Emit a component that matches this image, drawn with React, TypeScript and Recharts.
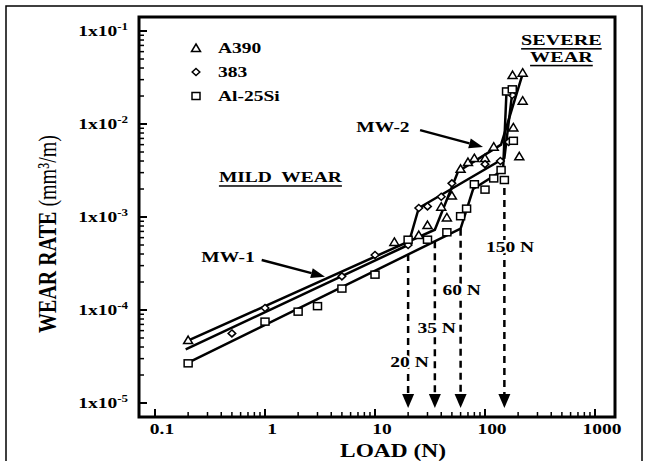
import {
  Legend,
  ReferenceArea,
  ReferenceDot,
  ReferenceLine,
  Scatter,
  ScatterChart,
  XAxis,
  YAxis,
} from "recharts";

const FONT = "'Liberation Serif', 'Times New Roman', Times, serif";
const INK = "#000";
// the scanned figure is stretched sideways, so all text is widened a bit
const STRETCH = 1.3;

const X_DOMAIN = [0.0715, 1520];
const Y_DOMAIN = [7.07e-6, 0.1415];

const X_MAJOR = [0.1, 1, 10, 100, 1000];
const X_LABELS = ["0.1", "1", "10", "100", "1000"];
const X_MINOR = [
  0.2, 0.3, 0.4, 0.5, 0.6, 0.7, 0.8, 0.9, 2, 3, 4, 5, 6, 7, 8, 9, 20, 30, 40, 50, 60, 70, 80, 90, 200, 300, 400,
  500, 600, 700, 800, 900,
];

const Y_MAJOR = [1e-5, 1e-4, 1e-3, 1e-2, 1e-1];
const Y_EXPONENTS = ["-5", "-4", "-3", "-2", "-1"];
const Y_MINOR = [
  2e-5, 3e-5, 4e-5, 5e-5, 6e-5, 7e-5, 8e-5, 9e-5, 2e-4, 3e-4, 4e-4, 5e-4, 6e-4, 7e-4, 8e-4, 9e-4, 2e-3, 3e-3, 4e-3,
  5e-3, 6e-3, 7e-3, 8e-3, 9e-3, 2e-2, 3e-2, 4e-2, 5e-2, 6e-2, 7e-2, 8e-2, 9e-2,
];

const LEGEND_ORDER = ["A390", "383", "Al-25Si"];

// measured points, load (N) vs wear rate (mm3/m)
const A390_POINTS = [
  { load: 0.2, rate: 4.75e-5 },
  { load: 15, rate: 5.4e-4 },
  { load: 25, rate: 6.4e-4 },
  { load: 30, rate: 8.2e-4 },
  { load: 40, rate: 1.29e-3 },
  { load: 45, rate: 9.9e-4 },
  { load: 50, rate: 1.7e-3 },
  { load: 60, rate: 3.3e-3 },
  { load: 70, rate: 3.9e-3 },
  { load: 80, rate: 4.3e-3 },
  { load: 100, rate: 4.3e-3 },
  { load: 120, rate: 5.7e-3 },
  { load: 178, rate: 0.0336 },
  { load: 181, rate: 9.2e-3 },
  { load: 205, rate: 4.5e-3 },
  { load: 220, rate: 0.0356 },
  { load: 220, rate: 0.0178 },
];

const A383_POINTS = [
  { load: 0.5, rate: 5.6e-5 },
  { load: 1, rate: 1.05e-4 },
  { load: 5, rate: 2.3e-4 },
  { load: 10, rate: 3.9e-4 },
  { load: 20, rate: 5.0e-4 },
  { load: 25, rate: 1.25e-3 },
  { load: 30, rate: 1.3e-3 },
  { load: 40, rate: 1.65e-3 },
  { load: 50, rate: 2.3e-3 },
  { load: 100, rate: 3.7e-3 },
  { load: 138, rate: 4.0e-3 },
  { load: 164, rate: 6.4e-3 },
  { load: 177, rate: 0.0205 },
];

const AL25SI_POINTS = [
  { load: 0.2, rate: 2.67e-5 },
  { load: 1, rate: 7.5e-5 },
  { load: 2, rate: 9.6e-5 },
  { load: 3, rate: 1.1e-4 },
  { load: 5, rate: 1.7e-4 },
  { load: 10, rate: 2.4e-4 },
  { load: 20, rate: 5.7e-4 },
  { load: 30, rate: 5.7e-4 },
  { load: 45, rate: 6.85e-4 },
  { load: 60, rate: 1.02e-3 },
  { load: 68, rate: 1.23e-3 },
  { load: 80, rate: 2.25e-3 },
  { load: 100, rate: 1.97e-3 },
  { load: 120, rate: 2.6e-3 },
  { load: 140, rate: 3.2e-3 },
  { load: 150, rate: 2.5e-3 },
  { load: 157, rate: 0.0224 },
  { load: 177, rate: 0.0236 },
  { load: 181, rate: 6.6e-3 },
];

// fitted regime lines (MW-1, transition, MW-2, severe)
const A390_FIT = [
  { load: 0.19, rate: 4.56e-5 },
  { load: 35, rate: 7.3e-4 },
  { load: 57, rate: 3.1e-3 },
  { load: 140, rate: 6.0e-3 },
  { load: 222, rate: 0.036 },
];
const A383_FIT = [
  { load: 0.19, rate: 3.78e-5 },
  { load: 20, rate: 5.0e-4 },
  { load: 25, rate: 1.25e-3 },
  { load: 150, rate: 4.3e-3 },
  { load: 178, rate: 0.023 },
];
const AL25SI_FIT = [
  { load: 0.19, rate: 2.63e-5 },
  { load: 60, rate: 7.5e-4 },
  { load: 78, rate: 2.0e-3 },
  { load: 146, rate: 3.2e-3 },
  { load: 157, rate: 0.023 },
];

// transition loads with dashed arrows
const TRANSITIONS = [
  { label: "20 N", load: 20, from: 4.0e-4, labelLoad: 20.6, labelRate: 2.72e-5 },
  { label: "35 N", load: 35, from: 5.5e-4, labelLoad: 36.4, labelRate: 6.4e-5 },
  { label: "60 N", load: 60, from: 7.5e-4, labelLoad: 61.4, labelRate: 1.64e-4 },
  { label: "150 N", load: 150, from: 2.05e-3, labelLoad: 169, labelRate: 4.7e-4 },
];
const ARROW_TIP_RATE = 8.83e-6;

const NOTES = [
  { text: "MILD  WEAR", load: 1.38, rate: 2.69e-3, size: 15, underline: true },
  { text: "SEVERE", load: 495, rate: 0.0795, size: 15.5, underline: true },
  { text: "WEAR", load: 495, rate: 0.0525, size: 15.5, underline: true },
  { text: "MW-1", load: 0.461, rate: 3.71e-4, size: 15, underline: false },
  { text: "MW-2", load: 11.8, rate: 9.3e-3, size: 15, underline: false },
];
const NOTE_ARROWS = [
  { from: { x: 0.933, y: 3.45e-4 }, to: { x: 3.51, y: 2.28e-4 } },
  { from: { x: 25.7, y: 8.6e-3 }, to: { x: 95.9, y: 5.66e-3 } },
];

const Triangle = ({ cx, cy }: any) => (
  <path
    d={`M${cx},${cy - 4} L${cx + 4.5},${cy + 3.5} L${cx - 4.5},${cy + 3.5} Z`}
    fill="#fff"
    stroke={INK}
    strokeWidth={1.5}
  />
);
const Diamond = ({ cx, cy }: any) => (
  <path
    d={`M${cx},${cy - 3.5} L${cx + 3.8},${cy} L${cx},${cy + 3.5} L${cx - 3.8},${cy} Z`}
    fill="#fff"
    stroke={INK}
    strokeWidth={1.5}
  />
);
const Square = ({ cx, cy }: any) => (
  <rect x={cx - 4} y={cy - 3.5} width={8} height={7} fill="#fff" stroke={INK} strokeWidth={1.5} />
);

const MARKERS: Record<string, (p: any) => any> = {
  A390: Triangle,
  "383": Diamond,
  "Al-25Si": Square,
};

const Wide = ({ x, y, size = 15, anchor = "middle", underline = false, halo = false, children }: any) => (
  <g transform={`translate(${x},${y}) scale(${STRETCH},1)`}>
    <text
      x={0}
      y={0}
      textAnchor={anchor}
      dominantBaseline="central"
      fontFamily={FONT}
      fontWeight="bold"
      fontSize={size}
      fill={INK}
      stroke={halo ? "#fff" : "none"}
      strokeWidth={halo ? 4 : 0}
      paintOrder="stroke"
      style={{ whiteSpace: "pre", textDecoration: underline ? "underline" : "none" }}
    >
      {children}
    </text>
  </g>
);

const YTick = ({ x, y, payload }: any) => {
  const idx = Y_MAJOR.indexOf(payload.value);
  const major = idx >= 0;
  return (
    <g>
      <line x1={x} y1={y} x2={x + (major ? 8 : 5)} y2={y} stroke={INK} strokeWidth={major ? 2 : 1.5} />
      {major && (
        <g transform={`translate(${x - 11},${y}) scale(${STRETCH},1)`}>
          <text textAnchor="end" dominantBaseline="central" fontFamily={FONT} fontWeight="bold" fontSize={15} fill={INK}>
            1x10
            <tspan dy={-4} fontSize={10}>
              {Y_EXPONENTS[idx]}
            </tspan>
          </text>
        </g>
      )}
    </g>
  );
};

const XTick = ({ x, y, payload }: any) => {
  const idx = X_MAJOR.indexOf(payload.value);
  const major = idx >= 0;
  return (
    <g>
      <line x1={x} y1={y} x2={x} y2={y - (major ? 8 : 5)} stroke={INK} strokeWidth={major ? 2 : 1.5} />
      {major && (
        <Wide x={x + 7} y={y + 12}>
          {X_LABELS[idx]}
        </Wide>
      )}
    </g>
  );
};

const Arrow = ({ x1, y1, x2, y2, dashed = false, head = 14, half = 5.5, width = 2.5 }: any) => {
  const dx = x2 - x1;
  const dy = y2 - y1;
  const len = Math.hypot(dx, dy) || 1;
  const ux = dx / len;
  const uy = dy / len;
  const bx = x2 - ux * head;
  const by = y2 - uy * head;
  const px = -uy * half;
  const py = ux * half;
  return (
    <g>
      <line x1={x1} y1={y1} x2={bx} y2={by} stroke={INK} strokeWidth={width} strokeDasharray={dashed ? "7 5" : undefined} />
      <polygon points={`${x2},${y2} ${bx + px},${by + py} ${bx - px},${by - py}`} fill={INK} />
    </g>
  );
};

const LegendBox = (props: any) => {
  const items = (props.payload || [])
    .filter((it: any) => it.type !== "none" && MARKERS[it.value])
    .sort((a: any, b: any) => LEGEND_ORDER.indexOf(a.value) - LEGEND_ORDER.indexOf(b.value));
  return (
    <svg width={110} height={80}>
      {items.map((it: any, i: number) => {
        const M = MARKERS[it.value];
        const cy = 12 + i * 24;
        return (
          <g key={it.value}>
            <M cx={10} cy={cy} />
            <Wide x={32} y={cy} anchor="start">
              {it.value}
            </Wide>
          </g>
        );
      })}
    </svg>
  );
};

const noDot = () => <g />;

export default function App() {
  return (
    <div style={{ position: "absolute", left: 0, top: 0, width: 646, height: 461, background: "#fff", overflow: "hidden" }}>
      <ScatterChart width={646} height={461} margin={{ top: 17, right: 31, bottom: 0, left: 0 }}>
        <XAxis
          dataKey="load"
          type="number"
          scale="log"
          domain={X_DOMAIN}
          allowDataOverflow
          ticks={[...X_MAJOR, ...X_MINOR]}
          interval={0}
          tick={(p: any) => <XTick {...p} />}
          tickLine={false}
          axisLine={false}
          tickSize={0}
          tickMargin={0}
          height={44}
        />
        <YAxis
          dataKey="rate"
          type="number"
          scale="log"
          domain={Y_DOMAIN}
          allowDataOverflow
          ticks={[...Y_MAJOR, ...Y_MINOR]}
          interval={0}
          tick={(p: any) => <YTick {...p} />}
          tickLine={false}
          axisLine={false}
          tickSize={0}
          tickMargin={0}
          width={139}
        />
        <ReferenceArea
          x1={X_DOMAIN[0]}
          x2={X_DOMAIN[1]}
          y1={Y_DOMAIN[0]}
          y2={Y_DOMAIN[1]}
          fill="none"
          fillOpacity={0}
          stroke={INK}
          strokeWidth={3}
          ifOverflow="visible"
        />
        {TRANSITIONS.map((t) => (
          <ReferenceLine
            key={t.label}
            segment={[
              { x: t.load, y: t.from },
              { x: t.load, y: ARROW_TIP_RATE },
            ]}
            ifOverflow="visible"
            shape={(p: any) => <Arrow {...p} dashed head={14} half={6} width={2.5} />}
          />
        ))}
        {NOTE_ARROWS.map((a, i) => (
          <ReferenceLine
            key={`note-arrow-${i}`}
            segment={[a.from, a.to]}
            ifOverflow="visible"
            shape={(p: any) => <Arrow {...p} head={14} half={5} width={2.5} />}
          />
        ))}
        <Scatter name="A390 fit" data={A390_FIT} legendType="none" line={{ stroke: INK, strokeWidth: 2.5 }} shape={noDot} isAnimationActive={false} />
        <Scatter name="383 fit" data={A383_FIT} legendType="none" line={{ stroke: INK, strokeWidth: 2.5 }} shape={noDot} isAnimationActive={false} />
        <Scatter name="Al-25Si fit" data={AL25SI_FIT} legendType="none" line={{ stroke: INK, strokeWidth: 2.5 }} shape={noDot} isAnimationActive={false} />
        <Scatter name="A390" data={A390_POINTS} fill="#fff" shape={Triangle} isAnimationActive={false} />
        <Scatter name="383" data={A383_POINTS} fill="#fff" shape={Diamond} isAnimationActive={false} />
        <Scatter name="Al-25Si" data={AL25SI_POINTS} fill="#fff" shape={Square} isAnimationActive={false} />
        {TRANSITIONS.map((t) => (
          <ReferenceDot
            key={`lbl-${t.label}`}
            x={t.labelLoad}
            y={t.labelRate}
            r={0}
            ifOverflow="visible"
            shape={(p: any) => (
              <Wide x={p.cx} y={p.cy} halo>
                {t.label}
              </Wide>
            )}
          />
        ))}
        {NOTES.map((n) => (
          <ReferenceDot
            key={n.text}
            x={n.load}
            y={n.rate}
            r={0}
            ifOverflow="visible"
            shape={(p: any) => (
              <Wide x={p.cx} y={p.cy} size={n.size} underline={n.underline}>
                {n.text}
              </Wide>
            )}
          />
        ))}
        <Legend
          layout="vertical"
          align="center"
          verticalAlign="middle"
          content={(p: any) => <LegendBox {...p} />}
          wrapperStyle={{ position: "absolute", left: 186, top: 36, width: 110, height: 80, lineHeight: 0 }}
        />
      </ScatterChart>
      <svg width={646} height={461} style={{ position: "absolute", left: 0, top: 0, pointerEvents: "none" }}>
        <rect x={6} y={6} width={636} height={470} fill="none" stroke={INK} strokeWidth={1.5} />
        <g transform={`translate(47,234) rotate(-90) scale(1,${STRETCH})`}>
          <text x={0} y={0} textAnchor="middle" dominantBaseline="central" fontFamily={FONT} fontSize={20} fill={INK}>
            <tspan fontWeight="bold">WEAR RATE </tspan>
            <tspan>(mm³/m)</tspan>
          </text>
        </g>
        <Wide x={393} y={451} size={18}>
          LOAD (N)
        </Wide>
      </svg>
    </div>
  );
}
